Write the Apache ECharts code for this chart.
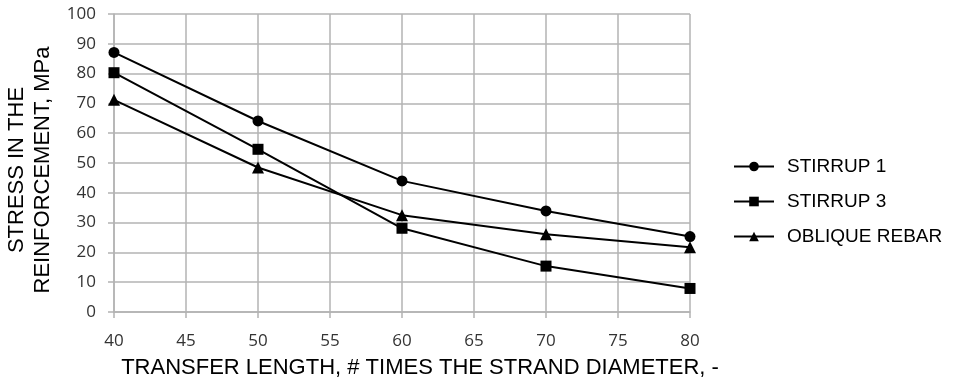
<!DOCTYPE html>
<html><head><meta charset="utf-8">
<script src="https://cdn.jsdelivr.net/npm/echarts@6/dist/echarts.min.js"></script>
<style>html,body{margin:0;padding:0;background:#fff}#c{width:953px;height:383px}</style>
</head><body><div id="c"></div>
<script>
const xValues = [40, 50, 60, 70, 80];
const stirrup1 = [87.1, 64.1, 44.0, 33.9, 25.3];
const stirrup3 = [80.3, 54.6, 28.1, 15.4, 7.9];
const obliqueRebar = [71.2, 48.5, 32.5, 26.1, 21.7];
const seriesNames = ['STIRRUP 1', 'STIRRUP 3', 'OBLIQUE REBAR'];
const xTitle = 'TRANSFER LENGTH, # TIMES THE STRAND DIAMETER, -';
const yTitle = 'STRESS IN THE\nREINFORCEMENT, MPa';

const font = 'Liberation Sans, Arial, sans-serif';
const tickFont = 'Open Sans, sans-serif';
const grid = '#b3b3b3';
function pairs(v){ return xValues.map((x,i)=>[x,v[i]]); }
function mk(name, data, symbol, size){
  return {name, type:'line', data:pairs(data), symbol, symbolSize:size,
    lineStyle:{color:'#000', width:2}, itemStyle:{color:'#000'}, z:3, animation:false};
}
const chart = echarts.init(document.getElementById('c'), null, {renderer:'canvas'});
chart.setOption({
  backgroundColor:'#fff',
  animation:false,
  grid:{left:114, right:263, top:14, bottom:71, containLabel:false, outerBoundsMode:'none'},
  xAxis:{type:'value', min:40, max:80, interval:5,
    name:xTitle, nameLocation:'middle', nameGap:45,
    nameTextStyle:{fontFamily:font, fontSize:22, color:'#000', padding:[0,0,0,36]},
    axisLine:{show:true, lineStyle:{color:grid, width:1.5}},
    axisTick:{show:true, length:6, lineStyle:{color:grid, width:1.5}},
    axisLabel:{fontFamily:tickFont, fontSize:17, color:'#333', margin:21},
    splitLine:{show:true, lineStyle:{color:grid, width:1.5}}},
  yAxis:{type:'value', min:0, max:100, interval:10,
    name:yTitle, nameLocation:'middle', nameRotate:90, nameGap:55,
    nameTextStyle:{fontFamily:font, fontSize:22, color:'#000', lineHeight:26, padding:[0,14,0,0]},
    axisLine:{show:true, lineStyle:{color:grid, width:1.5}},
    axisTick:{show:true, length:6, lineStyle:{color:grid, width:1.5}},
    axisLabel:{fontFamily:tickFont, fontSize:17, color:'#333', margin:18},
    splitLine:{show:true, lineStyle:{color:grid, width:1.5}}},
  legend:{orient:'vertical', left:728, top:152, itemGap:16, itemWidth:40, itemHeight:12,
    textStyle:{fontFamily:font, fontSize:19, color:'#000', padding:[0,0,0,8]},
    data:seriesNames},
  series:[
    mk(seriesNames[0], stirrup1, 'circle', 11),
    mk(seriesNames[1], stirrup3, 'rect', 11),
    mk(seriesNames[2], obliqueRebar, 'triangle', 12)
  ]
});
</script></body></html>
